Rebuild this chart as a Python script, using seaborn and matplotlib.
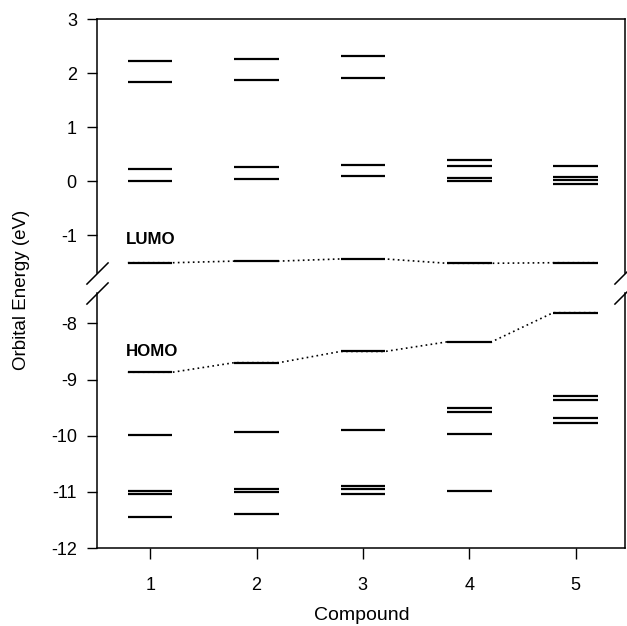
import pandas as pd
import matplotlib
matplotlib.use("Agg")
import matplotlib.pyplot as plt
import seaborn as sns

# === DATA (eV) ===
compounds = [1, 2, 3, 4, 5]

# unoccupied levels above LUMO (upper panel)
upper_levels = {
    1: [2.23, 1.84, 0.22, 0.00],
    2: [2.26, 1.87, 0.26, 0.04],
    3: [2.31, 1.90, 0.29, 0.10],
    4: [0.40, 0.28, 0.05, 0.01],
    5: [0.28, 0.07, 0.02, -0.05],
}
lumo = [-1.51, -1.48, -1.44, -1.52, -1.51]
homo = [-8.87, -8.70, -8.50, -8.33, -7.81]

# occupied levels below HOMO (lower panel)
lower_levels = {
    1: [-9.99, -10.98, -11.03, -11.44],
    2: [-9.94, -10.95, -11.01, -11.40],
    3: [-9.89, -10.89, -10.95, -11.03],
    4: [-9.50, -9.57, -9.97, -10.98],
    5: [-9.29, -9.36, -9.69, -9.77],
}

top_ticks = [3, 2, 1, 0, -1]
bot_ticks = [-8, -9, -10, -11, -12]

# === STYLE ===
sns.set_theme(style="ticks")
plt.rcParams["font.family"] = ["Liberation Sans", "DejaVu Sans"]
plt.rcParams["axes.unicode_minus"] = False
plt.rcParams["text.color"] = "black"

half = 0.21          # half width of a level bar
lw_level = 1.6

fig = plt.figure(figsize=(6.27, 6.26), dpi=100)
ax_top = fig.add_axes([0.1547, 0.5639, 0.8429, 0.4057])
ax_bot = fig.add_axes([0.1547, 0.1246, 0.8429, 0.4073])


def connector_df(energies):
    # dotted path from right end of one level to left end of the next
    rows = []
    for c, e in zip(compounds, energies):
        rows.append({"x": c - half, "energy": e})
        rows.append({"x": c + half, "energy": e})
    return pd.DataFrame(rows)


for ax, levels, frontier in [(ax_top, upper_levels, lumo), (ax_bot, lower_levels, homo)]:
    sns.lineplot(data=connector_df(frontier), x="x", y="energy", ax=ax,
                 estimator=None, sort=False, color="black", lw=1.2,
                 linestyle=(0, (1, 2)), zorder=2)
    for c in compounds:
        ax.hlines(levels[c], c - half, c + half, color="black", lw=lw_level, zorder=3)
    ax.hlines(frontier, [c - half for c in compounds], [c + half for c in compounds],
              color="black", lw=lw_level, zorder=3)
    ax.set_xlim(0.5, 5.47)
    ax.set_xlabel("")
    ax.set_ylabel("")
    for s in ax.spines.values():
        s.set_linewidth(1.1)
        s.set_color("black")
    ax.tick_params(axis="y", direction="out", length=7.5, width=1.0, pad=7,
                   labelsize=13, colors="black")

ax_top.set_ylim(-1.70, 3)
ax_top.set_yticks(top_ticks)
ax_top.set_yticklabels([str(t) for t in top_ticks])
ax_top.spines["bottom"].set_visible(False)
ax_top.tick_params(axis="x", bottom=False, labelbottom=False)

ax_bot.set_ylim(-12, -7.46)
ax_bot.set_yticks(bot_ticks)
ax_bot.set_yticklabels([str(t) for t in bot_ticks])
ax_bot.spines["top"].set_visible(False)
ax_bot.set_xticks(compounds)
ax_bot.set_xticklabels([str(c) for c in compounds])
ax_bot.tick_params(axis="x", direction="out", length=8, width=1.0, pad=13,
                   labelsize=13, colors="black")

# axis break marks
slash = dict(marker=[(-1, -1), (1, 1)], markersize=16, linestyle="none",
             color="black", mec="black", mew=1.1, clip_on=False)
ax_top.plot([0, 1], [0, 0], transform=ax_top.transAxes, **slash)
ax_bot.plot([0, 1], [1, 1], transform=ax_bot.transAxes, **slash)

ax_top.text(0.77, -1.085, "LUMO", fontsize=12.2, fontweight="bold",
            color="black", ha="left", va="center")
ax_bot.text(0.77, -8.51, "HOMO", fontsize=12.2, fontweight="bold",
            color="black", ha="left", va="center")

fig.text(22 / 627, 1 - 290 / 626, "Orbital Energy (eV)", rotation=90,
         ha="center", va="center", fontsize=13.5, color="black")
fig.text(362 / 627, 1 - 615 / 626, "Compound", ha="center", va="center",
         fontsize=14, color="black")

fig.savefig("out.png", dpi=100)
